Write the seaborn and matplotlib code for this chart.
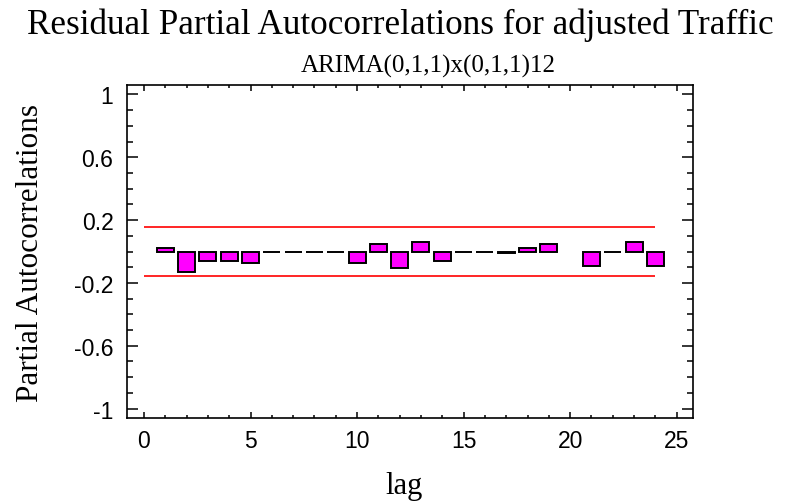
import numpy as np
import pandas as pd
import matplotlib
matplotlib.use("Agg")
import matplotlib.pyplot as plt
import seaborn as sns
from matplotlib.ticker import MultipleLocator, FixedLocator

# ---- data ----
lags = list(range(1, 25))
pacf = [0.025, -0.13, -0.063, -0.063, -0.075, 0.0, 0.0, 0.0, -0.005, -0.07,
        0.05, -0.105, 0.06, -0.06, 0.0, 0.0, -0.007, 0.02, 0.05, np.nan,
        -0.09, 0.0, 0.06, -0.09]
limit = 0.155
title = "Residual Partial Autocorrelations for adjusted Traffic"
subtitle = "ARIMA(0,1,1)x(0,1,1)12"
xlabel = "lag"
ylabel = "Partial Autocorrelations"
yticks = [-1, -0.6, -0.2, 0.2, 0.6, 1]
ytick_labels = ["-1", "-0.6", "-0.2", "0.2", "0.6", "1"]
xticks = [0, 5, 10, 15, 20, 25]

df = pd.DataFrame({"lag": lags, "pacf": pacf})

sns.set_theme(style="white")
serif = ["Liberation Serif", "DejaVu Serif"]
sans = ["Liberation Sans", "DejaVu Sans"]

fig = plt.figure(figsize=(7.88, 5.02), dpi=100)
ax = fig.add_axes([0.1616, 0.1653, 0.879 - 0.1616, 0.8287 - 0.1653])

sns.barplot(data=df, x="lag", y="pacf", native_scale=True, width=0.8,
            color="#ff00ff", edgecolor="black", linewidth=1.4,
            saturation=1, ax=ax, errorbar=None)

ax.hlines([limit, -limit], 0, 24, color="#ff0000", linewidth=1.2, zorder=1)

ax.set_xlim(-0.78, 25.75)
ax.set_ylim(-1.06, 1.06)
ax.xaxis.set_major_locator(FixedLocator(xticks))
ax.xaxis.set_minor_locator(MultipleLocator(1))
ax.yaxis.set_major_locator(FixedLocator(yticks))
ax.yaxis.set_minor_locator(MultipleLocator(0.1))
ax.set_yticklabels(ytick_labels)
ax.set_xticklabels([str(t) for t in xticks])

for lab in ax.get_xticklabels() + ax.get_yticklabels():
    lab.set_fontfamily(sans)
    lab.set_fontsize(16.5)
    lab.set_color("black")

ax.tick_params(axis="x", which="major", direction="in", length=4.5, width=1.1,
               top=True, bottom=True, pad=8, color="black")
ax.tick_params(axis="x", which="minor", direction="in", length=2.5, width=1.1,
               top=True, bottom=True, color="black")
ax.tick_params(axis="y", which="major", direction="in", length=8, width=1.1,
               left=True, right=True, pad=10, color="black")
ax.tick_params(axis="y", which="minor", direction="in", length=4.3, width=1.1,
               left=True, right=True, color="black")

for s in ax.spines.values():
    s.set_color("black")
    s.set_linewidth(1.2)
    s.set_visible(True)

ax.set_xlabel(xlabel, fontfamily=serif, fontsize=22, color="black")
ax.set_ylabel(ylabel, fontfamily=serif, fontsize=22.5, color="black")
ax.xaxis.set_label_coords(0.489, -0.158)
ax.yaxis.set_label_coords(-0.145, 0.5)

fig.text(0.508, 0.95, title, ha="center", va="center", fontfamily=serif,
         fontsize=25.3, color="black")
fig.text(0.543, 0.868, subtitle, ha="center", va="center", fontfamily=serif,
         fontsize=18, color="black")

fig.savefig("out.png", dpi=100, facecolor="white")
